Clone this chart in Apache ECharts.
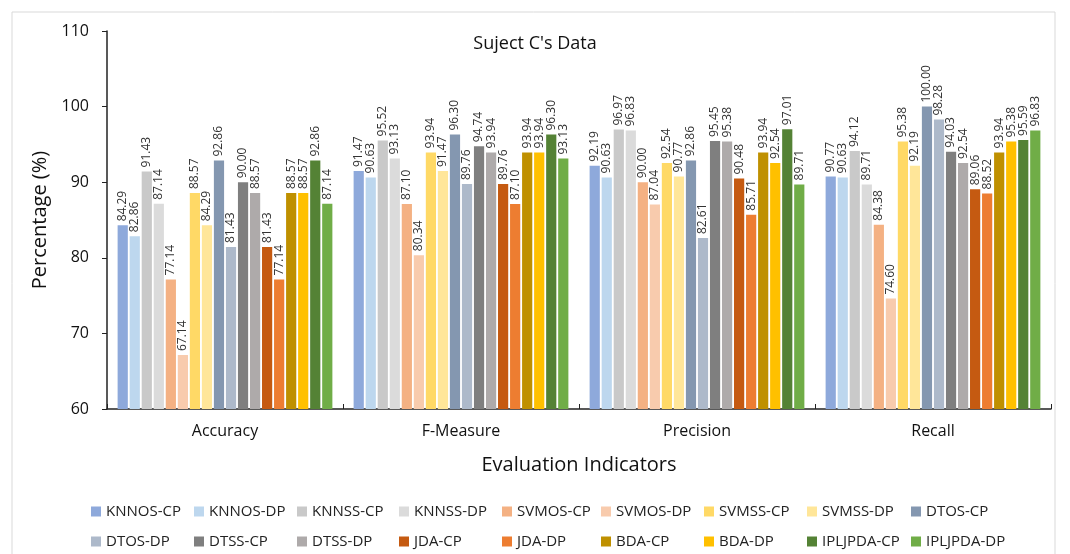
<!DOCTYPE html>
<html>
<head>
<meta charset="utf-8">
<script src="https://cdn.jsdelivr.net/npm/echarts@6/dist/echarts.min.js"></script>
<style>
  html, body { margin: 0; padding: 0; background: #fff; }
  #main { width: 1070px; height: 554px; }
</style>
</head>
<body>
<div id="main"></div>
<script type="text/javascript">
// 类目
var categories = ['Accuracy', 'F-Measure', 'Precision', 'Recall'];
var methods = ['KNNOS-CP', 'KNNOS-DP', 'KNNSS-CP', 'KNNSS-DP', 'SVMOS-CP', 'SVMOS-DP',
  'SVMSS-CP', 'SVMSS-DP', 'DTOS-CP', 'DTOS-DP', 'DTSS-CP', 'DTSS-DP',
  'JDA-CP', 'JDA-DP', 'BDA-CP', 'BDA-DP', 'IPLJPDA-CP', 'IPLJPDA-DP'];
var colors = ['#8EA9DB', '#BDD7EE', '#C9C9C9', '#DBDBDB', '#F4B183', '#F8CBAD',
  '#FFD966', '#FFE699', '#8497B0', '#ADB9CA', '#7F7F7F', '#AEAAAA',
  '#C55A11', '#ED7D31', '#BF9000', '#FFC000', '#548235', '#70AD47'];
// 每个指标下各方法的数值（顺序同 methods）
var accuracy  = [84.29, 82.86, 91.43, 87.14, 77.14, 67.14, 88.57, 84.29, 92.86, 81.43, 90.00, 88.57, 81.43, 77.14, 88.57, 88.57, 92.86, 87.14];
var fMeasure  = [91.47, 90.63, 95.52, 93.13, 87.10, 80.34, 93.94, 91.47, 96.30, 89.76, 94.74, 93.94, 89.76, 87.10, 93.94, 93.94, 96.30, 93.13];
var precision = [92.19, 90.63, 96.97, 96.83, 90.00, 87.04, 92.54, 90.77, 92.86, 82.61, 95.45, 95.38, 90.48, 85.71, 93.94, 92.54, 97.01, 89.71];
var recall    = [90.77, 90.63, 94.12, 89.71, 84.38, 74.60, 95.38, 92.19, 100.00, 98.28, 94.03, 92.54, 89.06, 88.52, 93.94, 95.38, 95.59, 96.83];
var yTicks = [60, 70, 80, 90, 100, 110];

var font = 'Open Sans, Noto Sans, sans-serif';
var chart = echarts.init(document.getElementById('main'));

var series = methods.map(function (m, i) {
  return {
    name: m,
    type: 'bar',
    data: [accuracy[i], fMeasure[i], precision[i], recall[i]],
    barCategoryGap: '9%',
    barGap: '18%',
    itemStyle: { color: colors[i] },
    label: {
      show: true,
      position: 'top',
      rotate: 90,
      align: 'left',
      verticalAlign: 'middle',
      distance: 4,
      color: '#333',
      fontSize: 12,
      fontFamily: font,
      formatter: function (p) { return p.value.toFixed(2); }
    }
  };
});

// 图例：9列，每列两项
var legends = [];
var legendLeft = [86, 189, 292, 394, 497, 596, 699, 802, 906];
for (var c = 0; c < 9; c++) {
  legends.push({
    orient: 'vertical',
    left: legendLeft[c],
    top: 499,
    height: 60,
    itemGap: 15,
    itemWidth: 10,
    itemHeight: 10,
    icon: 'rect',
    selectedMode: false,
    textStyle: { fontSize: 15, color: '#222', fontFamily: font },
    data: [methods[c], methods[c + 9]]
  });
}

chart.setOption({
  animation: false,
  color: colors,
  title: {
    text: "Suject C's Data",
    left: 'center',
    top: 30,
    textStyle: { fontSize: 18, fontWeight: 'normal', color: '#111', fontFamily: font }
  },
  graphic: [{
    type: 'rect',
    shape: { x: 12, y: 12, width: 1043, height: 560 },
    style: { fill: 'none', stroke: '#d9d9d9', lineWidth: 1 },
    silent: true
  }],
  legend: legends,
  grid: { left: 107, right: 19, top: 31, bottom: 145 },
  xAxis: {
    type: 'category',
    data: categories,
    name: 'Evaluation Indicators',
    nameLocation: 'middle',
    nameGap: 46,
    nameTextStyle: { fontSize: 20, color: '#111', fontFamily: font },
    axisLine: { lineStyle: { color: '#222', width: 1.5 } },
    axisTick: { show: true, inside: true, length: 5, lineStyle: { color: '#222' } },
    axisLabel: { fontSize: 16, color: '#111', margin: 14, fontFamily: font }
  },
  yAxis: {
    type: 'value',
    min: yTicks[0],
    max: yTicks[yTicks.length - 1],
    interval: 10,
    name: 'Percentage (%)',
    nameLocation: 'middle',
    nameGap: 52,
    nameTextStyle: { fontSize: 20, color: '#111', fontFamily: font },
    axisLine: { show: true, lineStyle: { color: '#222', width: 1.5 } },
    axisTick: { show: true, length: 5, lineStyle: { color: '#222' } },
    splitLine: { show: false },
    axisLabel: { fontSize: 16, color: '#111', margin: 18, fontFamily: font }
  },
  series: series
});
</script>
</body>
</html>
